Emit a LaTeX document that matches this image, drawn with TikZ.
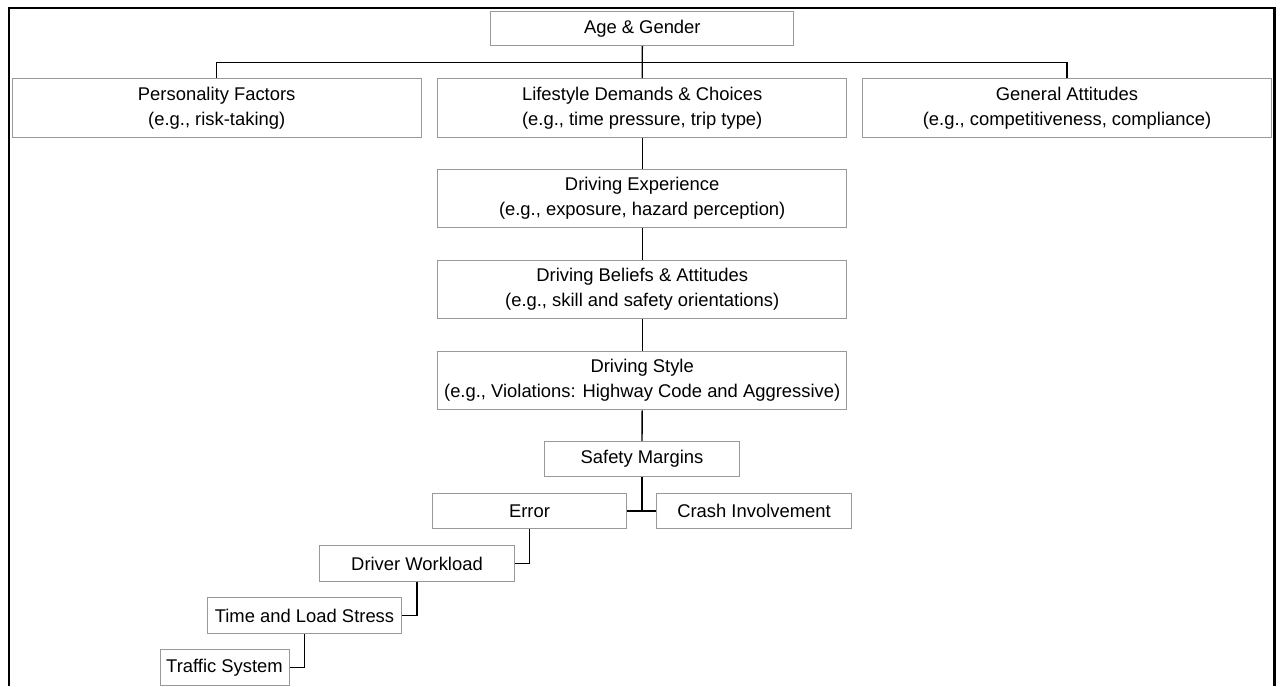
\documentclass[tikz,border=0pt]{standalone}
\usepackage{fontspec}
\setmainfont{Liberation Sans}
\usepackage{tikz}

\begin{document}
\begin{tikzpicture}[x=1pt, y=-1pt,
  box/.style={draw=black!40, line width=1pt, inner sep=0pt, align=center, font=\fontsize{18.4}{25}\selectfont},
  wide/.style={box, minimum width=409pt, minimum height=58.5pt},
  small/.style={box, minimum width=194.5pt, minimum height=35.5pt},
  link/.style={black, line width=1.4pt}]
\useasboundingbox (0,0) rectangle (1280,686);
\draw[black, line width=2.4pt] (8.7,686) -- (8.7,7.7) -- (1274.4,7.7) -- (1274.4,686);
% top row
\node[box, minimum width=303pt, minimum height=34pt] (age) at (642.3,28.7) {Age \& Gender};
\node[wide] (pers) at (216.7,107.8) {Personality Factors\\(e.g., risk-taking)};
\node[wide] (life) at (642.2,107.8) {Lifestyle Demands \& Choices\\(e.g., time pressure, trip type)};
\node[wide] (gen) at (1067,107.8) {General Attitudes\\(e.g., competitiveness, compliance)};
% middle column
\node[wide] (exp) at (642.2,198.5) {Driving Experience\\(e.g., exposure, hazard perception)};
\node[wide] (bel) at (642.2,289.5) {Driving Beliefs \& Attitudes\\(e.g., skill and safety orientations)};
\node[wide] (sty) at (642.2,380.5) {Driving Style\\(e.g., Violations: Highway Code and Aggressive)};
\node[small] (mar) at (642,459) {Safety Margins};
% lower steps
\node[small] (err) at (529.5,511) {Error};
\node[small] (crash) at (754,511) {Crash Involvement};
\node[small] (work) at (417,563.5) {Driver Workload};
\node[small] (time) at (304.5,615.5) {Time and Load Stress};
\node[small, minimum width=129pt] (traf) at (224.5,667.5) {Traffic System};
\coordinate (bus) at (642.3,62.4);
% connectors
\draw[link] (age.south) -- (life.north);
\draw[link] (pers.north) |- (bus) -| (gen.north);
\draw[link] (life.south) -- (exp.north);
\draw[link] (exp.south) -- (bel.north);
\draw[link] (bel.south) -- (sty.north);
\draw[link] (sty.south) -- (mar.north);
\draw[link] (mar.south) -- (mar.south |- err.east);
\draw[link] (err.east) -- (crash.west);
\draw[link] (err.south) |- (work.east);
\draw[link] (work.south) |- (time.east);
\draw[link] (time.south) |- (traf.east);
\end{tikzpicture}
\end{document}
